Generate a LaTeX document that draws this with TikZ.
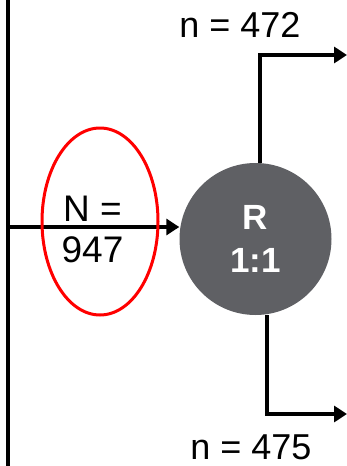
\documentclass[tikz,border=0pt]{standalone}
\usepackage{fontspec}
\setmainfont{Liberation Sans}
\usetikzlibrary{positioning,arrows.meta,calc,shapes.geometric}
\definecolor{randgray}{RGB}{95,96,100}
\begin{document}
\begin{tikzpicture}[
    x=1pt, y=-1pt,
    every node/.style={inner sep=0pt},
    flow/.style={line width=4pt, -{Triangle[length=13pt, width=16pt]}},
    randnode/.style={circle, fill=randgray, minimum size=152pt, text=white,
                 align=center, font=\bfseries\fontsize{35}{43}\selectfont},
    poolnode/.style={ellipse, draw=red, line width=3pt,
                 minimum width=116pt, minimum height=187pt},
    countlbl/.style={anchor=base, font=\fontsize{36}{42}\selectfont},
    >=Stealth
]
  \useasboundingbox (0,0) rectangle (347,466);
  % left boundary line
  \coordinate (lineTop) at (8,0);
  \coordinate (lineBot) at (8,466);
  \draw[line width=4pt] (lineTop) -- (lineBot);
  % randomisation
  \node[randnode] (rand) at (255.5,239) {R\\1:1};
  \coordinate (start) at (10,227);
  \draw[flow] (start) -- (start -| rand.west);
  \node[poolnode] (pool) at (100,221.5) {};
  \node[align=center, font=\fontsize{37}{41}\selectfont] (total)
       at ($(pool.center)+(-7.5,7.5)$) {N =\\947};
  % two arms
  \coordinate (upEnd) at (347,55);
  \coordinate (lowEnd) at (347,414);
  \draw[flow] ([xshift=4.5pt]rand.north) |- (upEnd);
  \draw[flow] ([xshift=11pt]rand.south) |- (lowEnd);
  \node[countlbl] (armA) at (240,37) {n = 472};
  \node[countlbl] (armB) at (251,459) {n = 475};
\end{tikzpicture}
\end{document}
